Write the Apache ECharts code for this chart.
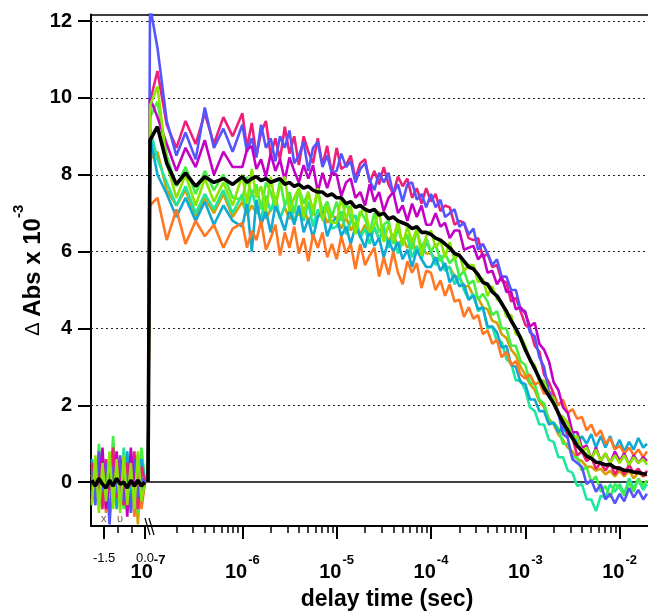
<!DOCTYPE html>
<html>
<head>
<meta charset="utf-8">
<script src="https://cdn.jsdelivr.net/npm/echarts@6/dist/echarts.min.js"></script>
<style>html,body{margin:0;padding:0;background:#fff;}#c{width:648px;height:611px;}</style>
</head>
<body>
<div id="c"></div>
<script>
// ---- delay times ----
const LIN_T = [-1.95, -1.82, -1.69, -1.56, -1.43, -1.30, -1.17, -1.04, -0.91, -0.78, -0.65, -0.52, -0.39, -0.26, -0.13, 0.0];
const LOG_T = [
  1.0e-7, 1.05e-7, 1.26e-7, 1.58e-7, 2.0e-7, 2.5e-7, 3.2e-7, 4.0e-7, 5.0e-7, 6.3e-7, 7.9e-7,
  1.0e-6, 1.12e-6, 1.26e-6, 1.41e-6, 1.58e-6, 1.78e-6, 2.0e-6, 2.24e-6, 2.51e-6, 2.82e-6, 3.16e-6, 3.55e-6, 3.98e-6, 4.47e-6, 5.01e-6, 5.62e-6, 6.31e-6, 7.08e-6, 7.94e-6, 8.91e-6,
  1.0e-5, 1.12e-5, 1.26e-5, 1.41e-5, 1.58e-5, 1.78e-5, 2.0e-5, 2.24e-5, 2.51e-5, 2.82e-5, 3.16e-5, 3.55e-5, 3.98e-5, 4.47e-5, 5.01e-5, 5.62e-5, 6.31e-5, 7.08e-5, 7.94e-5, 8.91e-5,
  1.0e-4, 1.12e-4, 1.26e-4, 1.41e-4, 1.58e-4, 1.78e-4, 2.0e-4, 2.24e-4, 2.51e-4, 2.82e-4, 3.16e-4, 3.55e-4, 3.98e-4, 4.47e-4, 5.01e-4, 5.62e-4, 6.31e-4, 7.08e-4, 7.94e-4, 8.91e-4,
  1.0e-3, 1.12e-3, 1.26e-3, 1.41e-3, 1.58e-3, 1.78e-3, 2.0e-3, 2.24e-3, 2.51e-3, 2.82e-3, 3.16e-3, 3.55e-3, 3.98e-3, 4.47e-3, 5.01e-3, 5.62e-3, 6.31e-3, 7.08e-3, 7.94e-3, 8.91e-3,
  1.0e-2, 1.12e-2, 1.26e-2, 1.41e-2, 1.58e-2, 1.78e-2, 1.95e-2
];

// ---- pre-trigger (linear) part, values x 1e-3 ----
const GOLD_LIN   = [0.4, -0.2, 0.5, -0.5, 0.3, -0.6, 0.2, -0.3, 0.6, -0.4, 0.3, -0.7, 0.4, -1.1, 0.5, 0.0];
const AQUA_LIN   = [-0.3, 0.4, -0.6, 0.7, -0.2, 0.5, -0.4, 0.3, -0.6, 0.9, -0.3, 0.4, -0.8, 0.5, -0.3, 0.0];
const GREEN_LIN  = [0.2, -0.5, 1.0, -0.3, 0.6, -0.6, 1.2, -0.4, 0.4, -0.7, 0.6, -0.3, 0.5, -0.8, 0.9, 0.0];
const CYAN_LIN   = [0.6, -0.4, 0.4, -0.6, 0.2, -0.3, 0.7, -0.7, 0.5, -0.2, 0.8, -0.5, 0.3, -0.6, 0.6, 0.0];
const ORANGE_LIN = [-0.5, 0.3, -0.4, 0.6, -0.8, 0.2, -0.3, 0.5, -0.6, 0.3, -0.4, 0.6, -0.9, 0.3, -0.7, 0.0];
const PINK_LIN   = [0.5, -0.3, 0.2, -0.7, 0.6, -0.2, 0.9, -0.4, 0.3, -0.6, 0.5, -0.1, 0.8, -0.7, 0.4, 0.0];
const BLUE_LIN   = [0.3, -0.6, 0.8, -0.2, 0.5, -1.1, 0.4, -0.3, 0.7, -0.5, 0.2, -0.8, 0.6, -0.4, 0.1, 0.0];
const MAG_LIN    = [-0.4, 0.6, -0.2, 0.9, -0.7, 0.3, -0.5, 0.8, -0.3, 0.5, -0.9, 0.9, -0.2, 0.7, -0.5, 0.0];
const LIME_LIN   = [-0.6, 0.7, -0.8, 0.5, -0.5, 0.8, -0.7, 0.6, -0.8, 0.7, -0.6, 0.5, -0.7, 0.8, -0.5, 0.0];
const BLACK_LIN  = [0.05, -0.1, 0.1, -0.05, -0.15, 0.05, -0.1, 0.1, -0.05, 0.0, -0.15, 0.05, -0.1, 0.05, -0.1, 0.0];

// ---- post-trigger (log) part, values x 1e-3 ----
const GOLD = [
  0.0, 8.4, 8.6, 7.6, 7.2, 7.6, 6.9, 7.4, 7.0, 7.5, 6.9,
  7.3, 6.95, 7.2, 7.0, 7.25, 6.85, 7.1, 7.2, 6.9, 7.15, 6.85, 7.05, 6.95, 7.15, 6.8, 7.0, 6.9, 7.1, 6.75, 6.95,
  6.85, 6.6, 6.9, 6.55, 6.75, 6.45, 6.7, 6.4, 6.6, 6.35, 6.5, 6.3, 6.45, 6.15, 6.35, 6.1, 6.25, 6.0, 6.15, 5.95,
  5.95, 5.8, 5.85, 5.6, 5.6, 5.35, 5.35, 5.1, 5.1, 4.85, 4.8, 4.55, 4.5, 4.2, 4.15, 3.85, 3.75, 3.45, 3.3, 3.0,
  2.8, 2.55, 2.4, 2.1, 1.95, 1.65, 1.5, 1.25, 1.1, 0.9, 0.8, 0.6, 0.55, 0.4, 0.4, 0.3, 0.35, 0.2, 0.3, 0.15,
  0.3, 0.15, 0.3, 0.1, 0.25, 0.15, 0.2
];
const AQUA = [
  0.0, 9.2, 8.4, 7.8, 7.2, 7.7, 7.0, 7.5, 7.1, 7.6, 7.0,
  7.5, 7.0, 7.6, 7.1, 6.85, 7.45, 7.05, 7.45, 6.85, 7.2, 7.45, 6.75, 7.1, 6.8, 7.3, 6.65, 7.1, 6.85, 7.15, 6.6,
  6.65, 7.05, 6.45, 6.8, 6.95, 6.35, 6.6, 6.2, 6.65, 6.3, 6.65, 6.1, 6.45, 5.95, 6.3, 6.4, 5.85, 6.15, 5.8, 6.25,
  6.0, 5.65, 5.9, 5.5, 5.6, 5.15, 5.35, 5.0, 4.75, 4.9, 4.45, 4.55, 4.0, 4.05, 3.65, 3.65, 3.2, 3.1, 2.65, 2.65,
  2.4, 1.95, 1.85, 1.5, 1.5, 1.1, 1.05, 0.65, 0.65, 0.3, 0.25, -0.1, -0.05, -0.45, -0.45, -0.75, -0.35, -0.4, -0.05, -0.25,
  -0.05, -0.3, 0.1, -0.15, 0.05, -0.2, -0.05
];
const GREEN = [
  0.0, 9.5, 9.9, 8.5, 7.7, 8.2, 7.5, 8.1, 7.6, 8.0, 7.4,
  7.35, 7.95, 7.45, 7.75, 7.1, 7.8, 7.55, 7.15, 7.85, 7.2, 7.55, 7.0, 7.65, 7.25, 7.55, 6.95, 7.6, 7.05, 7.3, 6.9,
  7.3, 6.8, 7.3, 6.85, 6.6, 7.05, 6.85, 6.5, 7.0, 6.5, 6.7, 6.8, 6.2, 6.6, 6.2, 6.45, 6.05, 6.55, 6.1, 6.35,
  6.0, 6.2, 5.75, 5.95, 5.7, 5.85, 5.35, 5.5, 5.15, 5.25, 4.75, 4.9, 4.7, 4.35, 4.45, 4.0, 4.0, 3.55, 3.55, 3.15,
  3.05, 2.6, 2.55, 2.15, 2.05, 1.6, 1.55, 1.4, 1.0, 1.0, 0.65, 0.65, 0.3, 0.4, 0.0, 0.15, -0.25, -0.1, -0.4, -0.05,
  -0.15, -0.35, 0.0, -0.25, 0.1, -0.1, 0.05
];
const CYAN = [
  0.0, 9.0, 8.0, 7.5, 6.9, 7.4, 6.8, 7.3, 6.7, 7.2, 6.8,
  6.65, 7.25, 6.0, 7.35, 6.7, 7.05, 6.5, 7.2, 6.9, 6.55, 7.1, 6.7, 7.2, 6.5, 6.85, 6.35, 6.9, 7.05, 6.4, 6.75,
  6.9, 6.4, 6.65, 6.2, 6.65, 6.4, 6.1, 6.6, 6.15, 6.35, 5.85, 6.3, 6.0, 6.25, 5.8, 6.05, 5.6, 6.05, 5.8, 5.6,
  5.6, 5.85, 5.5, 5.7, 5.2, 5.4, 5.1, 5.15, 4.75, 4.85, 4.5, 4.55, 4.05, 4.05, 3.9, 3.5, 3.55, 3.05, 3.0, 2.6,
  2.55, 2.15, 2.15, 1.85, 1.85, 1.5, 1.55, 1.3, 1.45, 1.2, 1.3, 1.0, 1.2, 1.0, 1.25, 0.9, 1.2, 0.9, 1.2, 0.85,
  1.1, 0.8, 1.05, 0.85, 1.15, 0.9, 1.0
];
const ORANGE = [
  0.0, 7.2, 7.4, 6.3, 7.1, 6.2, 6.8, 6.4, 6.7, 6.1, 6.6,
  6.75, 6.1, 6.55, 6.3, 6.8, 6.05, 6.35, 6.7, 5.9, 6.5, 6.1, 6.65, 5.95, 6.35, 5.75, 6.45, 6.1, 6.5, 5.85, 6.2,
  5.8, 6.4, 5.95, 6.2, 5.55, 6.2, 5.65, 5.9, 6.1, 5.35, 5.85, 5.4, 6.0, 5.45, 5.15, 5.75, 5.45, 5.7, 5.05, 5.5,
  5.45, 5.0, 5.25, 4.85, 5.15, 4.7, 4.75, 4.3, 4.55, 4.25, 4.35, 3.85, 3.95, 3.6, 3.7, 3.25, 3.4, 3.05, 3.15, 2.8,
  2.7, 2.8, 2.55, 2.6, 2.3, 2.35, 2.3, 2.0, 2.15, 1.8, 1.9, 1.65, 1.7, 1.35, 1.5, 1.2, 1.35, 1.0, 1.15, 0.85,
  0.95, 0.75, 0.9, 0.7, 0.85, 0.65, 0.8
];
const PINK = [
  0.0, 9.9, 10.7, 9.3, 8.7, 9.4, 8.8, 9.6, 8.8, 9.5, 9.0,
  9.6, 8.7, 9.35, 8.5, 9.1, 9.4, 8.5, 8.95, 8.4, 9.25, 8.55, 9.0, 8.25, 9.0, 8.6, 8.3, 8.95, 8.25, 8.75, 8.0,
  8.7, 8.15, 8.25, 8.5, 7.9, 8.3, 8.4, 7.8, 8.1, 7.75, 8.2, 7.75, 7.5, 7.95, 7.7, 7.9, 7.4, 7.65, 7.25, 7.65,
  7.3, 7.5, 7.05, 7.2, 7.15, 6.7, 6.8, 6.75, 6.35, 6.3, 6.35, 5.85, 5.95, 5.6, 5.65, 5.25, 5.2, 4.7, 4.8, 4.45,
  4.1, 4.0, 3.55, 3.4, 2.8, 2.6, 2.3, 1.75, 1.7, 1.25, 1.15, 0.7, 0.8, 0.55, 0.65, 0.35, 0.5, 0.3, 0.5, 0.2,
  0.4, 0.2, 0.45, 0.25, 0.35, 0.15, 0.3
];
const BLUE = [
  0.0, 12.4, 11.3, 9.4, 8.5, 9.1, 8.4, 9.75, 8.7, 9.2, 8.6,
  9.3, 8.6, 8.95, 8.45, 9.3, 8.7, 8.95, 8.35, 9.0, 8.7, 9.15, 8.3, 8.5, 8.85, 8.1, 8.7, 8.85, 8.2, 8.5, 8.05,
  8.1, 8.55, 8.2, 8.35, 7.8, 8.15, 8.3, 7.85, 7.6, 8.05, 7.8, 8.05, 7.5, 7.75, 7.3, 7.75, 7.8, 7.35, 7.5, 7.15,
  7.5, 7.15, 7.35, 6.9, 7.0, 7.1, 6.65, 6.75, 6.45, 6.6, 6.05, 6.2, 5.95, 5.65, 5.8, 5.35, 5.35, 5.0, 5.0, 4.5,
  4.45, 3.9, 3.8, 3.25, 3.0, 2.35, 2.15, 1.8, 1.25, 1.15, 0.6, 0.5, 0.4, -0.05, 0.05, -0.25, -0.05, -0.45, -0.3, -0.55,
  -0.3, -0.5, -0.15, -0.4, -0.2, -0.45, -0.3
];
const MAG = [
  0.0, 10.0, 9.5, 8.8, 8.1, 8.7, 8.2, 8.9, 8.0, 8.6, 8.2,
  8.2, 8.65, 8.75, 8.15, 8.4, 7.95, 8.55, 8.1, 8.4, 7.85, 8.45, 8.1, 7.8, 8.25, 7.9, 8.25, 7.55, 8.05, 7.65, 8.05,
  8.0, 7.45, 7.8, 7.9, 7.4, 7.55, 7.2, 7.75, 7.3, 7.55, 7.05, 7.4, 7.55, 7.0, 7.2, 6.8, 7.25, 6.9, 7.2, 6.7,
  6.7, 7.0, 6.65, 6.75, 6.35, 6.55, 6.55, 6.05, 6.1, 6.15, 5.8, 5.95, 5.45, 5.5, 5.15, 5.35, 4.95, 4.95, 4.5, 4.55,
  4.4, 4.05, 4.15, 3.6, 3.45, 3.15, 2.6, 2.4, 1.95, 1.8, 1.3, 1.3, 0.9, 0.95, 0.6, 0.9, 0.55, 0.75, 0.5, 0.8,
  0.55, 0.75, 0.45, 0.7, 0.5, 0.65, 0.55
];
const LIME = [
  0.0, 9.8, 10.3, 8.3, 7.4, 8.0, 7.2, 7.9, 7.3, 7.8, 7.2,
  8.0, 7.25, 8.15, 7.4, 7.7, 7.05, 7.95, 7.2, 7.7, 7.95, 7.05, 7.4, 7.65, 6.9, 7.55, 7.05, 7.65, 6.8, 7.2, 6.75,
  6.75, 7.4, 6.85, 7.2, 6.45, 7.0, 7.15, 6.5, 6.7, 7.05, 6.25, 6.7, 6.3, 6.8, 6.15, 6.65, 6.25, 6.6, 5.9, 6.4,
  6.55, 6.1, 6.3, 5.85, 6.25, 5.8, 5.95, 5.5, 5.65, 5.65, 5.2, 5.3, 4.85, 5.1, 4.75, 4.7, 4.3, 4.35, 3.85, 3.8,
  3.55, 3.15, 3.05, 2.6, 2.65, 2.25, 2.2, 1.75, 1.7, 1.55, 1.15, 1.2, 0.8, 0.9, 0.6, 0.85, 0.55, 0.75, 0.5, 0.7,
  0.5, 0.7, 0.45, 0.65, 0.5, 0.6, 0.45
];
const BLACK = [
  0.0, 8.9, 9.25, 8.3, 7.75, 8.05, 7.7, 7.95, 7.8, 7.9, 7.75,
  7.95, 7.8, 7.9, 7.95, 7.85, 7.9, 7.8, 7.85, 7.9, 7.75, 7.8, 7.7, 7.75, 7.65, 7.7, 7.6, 7.55, 7.55, 7.45, 7.5,
  7.4, 7.4, 7.25, 7.3, 7.15, 7.2, 7.1, 7.05, 7.1, 6.95, 7.0, 6.85, 6.9, 6.8, 6.75, 6.7, 6.6, 6.65, 6.5, 6.5,
  6.45, 6.35, 6.3, 6.2, 6.1, 5.95, 5.9, 5.75, 5.6, 5.55, 5.4, 5.2, 5.15, 4.95, 4.85, 4.65, 4.45, 4.2, 4.0, 3.75,
  3.45, 3.2, 2.95, 2.7, 2.45, 2.25, 2.05, 1.8, 1.55, 1.35, 1.15, 0.95, 0.82, 0.68, 0.62, 0.52, 0.5, 0.45, 0.46, 0.38,
  0.36, 0.31, 0.3, 0.26, 0.25, 0.22, 0.21
];

// ---- axis ticks / labels ----
const Y_TICKS = [0, 2, 4, 6, 8, 10, 12];
const Y_GRID = [2, 4, 6, 8, 10, 12];
const LIN_MAJOR = [-1.5, 0.0];
const LIN_MINOR = [-1.0, -0.5];
const LOG_LABELS = [1e-7, 1e-6, 1e-5, 1e-4, 1e-3, 1e-2];
const LOG_MAJOR = [1e-6, 1e-5, 1e-4, 1e-3, 1e-2];
const LOG_MINOR = [];
for (let e = -7; e <= -2; e++) {
  for (let m = 2; m <= 9; m++) {
    const v = m * Math.pow(10, e);
    if (v < 1.99e-2) LOG_MINOR.push(v);
  }
}

const traces = [
  {name: 'gold', lin: GOLD_LIN, log: GOLD},
  {name: 'aqua', lin: AQUA_LIN, log: AQUA},
  {name: 'green', lin: GREEN_LIN, log: GREEN},
  {name: 'cyan', lin: CYAN_LIN, log: CYAN},
  {name: 'orange', lin: ORANGE_LIN, log: ORANGE},
  {name: 'pink', lin: PINK_LIN, log: PINK},
  {name: 'blue', lin: BLUE_LIN, log: BLUE},
  {name: 'magenta', lin: MAG_LIN, log: MAG},
  {name: 'lime', lin: LIME_LIN, log: LIME},
  {name: 'average', lin: BLACK_LIN, log: BLACK}
];
const STYLE = {
  gold: {c: '#d4a000', w: 2.6}, aqua: {c: '#1ee6a0', w: 2.6}, green: {c: '#44ee44', w: 2.6},
  cyan: {c: '#10a8d4', w: 2.6}, orange: {c: '#ff7722', w: 2.6}, pink: {c: '#ee1f78', w: 2.6},
  blue: {c: '#5555ff', w: 2.6}, magenta: {c: '#c400c4', w: 2.6}, lime: {c: '#8ae600', w: 2.6},
  average: {c: '#000000', w: 3.6}
};

const FONT = 'Liberation Sans, Arial, Helvetica, sans-serif';
const YMIN = -1.14, YMAX = 12.17;

function gridMarkLine() {
  return {
    silent: true, symbol: 'none', z: 1, animation: false,
    label: {show: false},
    data: [{yAxis: 0, lineStyle: {color: '#000', width: 1.5, type: 'solid'}}]
      .concat(Y_GRID.map(v => ({yAxis: v, lineStyle: {color: '#222', width: 1, type: [2, 3]}})))
  };
}

const series = [];
traces.forEach((tr, k) => {
  const st = STYLE[tr.name];
  const a = {
    type: 'line', name: tr.name, xAxisIndex: 0, yAxisIndex: 0, showSymbol: false, symbol: 'none',
    lineStyle: {color: st.c, width: st.w}, itemStyle: {color: st.c}, emphasis: {disabled: true},
    data: LIN_T.map((t, i) => [t, tr.lin[i]])
  };
  const b = {
    type: 'line', name: tr.name, xAxisIndex: 2, yAxisIndex: 1, showSymbol: false, symbol: 'none',
    lineStyle: {color: st.c, width: st.w}, itemStyle: {color: st.c}, emphasis: {disabled: true},
    data: LOG_T.map((t, i) => [t, tr.log[i]])
  };
  if (k === 0) { a.markLine = gridMarkLine(); b.markLine = gridMarkLine(); }
  series.push(a, b);
});

const hiddenAxisParts = {axisLine: {show: false}, axisLabel: {show: false}, splitLine: {show: false}};

const option = {
  animation: false,
  backgroundColor: '#fff',
  textStyle: {fontFamily: FONT},
  grid: [
    {left: 91, width: 57, top: 14.5, height: 511.5, outerBoundsMode: 'none'},
    {left: 148, right: 0, top: 14.5, height: 511.5, outerBoundsMode: 'none'}
  ],
  xAxis: [
    { // linear pre-trigger axis
      type: 'value', gridIndex: 0, min: -1.98, max: 0.11, position: 'bottom',
      axisLine: {onZero: false, lineStyle: {color: '#000', width: 2}},
      axisTick: {customValues: LIN_MAJOR, length: 13, lineStyle: {color: '#000', width: 2}},
      axisLabel: {customValues: LIN_MAJOR, formatter: v => v.toFixed(1), fontSize: 13, color: '#000',
                  fontFamily: FONT, margin: 24, lineHeight: 16},
      splitLine: {show: false}
    },
    { // linear minor ticks
      type: 'value', gridIndex: 0, min: -1.98, max: 0.11, position: 'bottom',
      axisLine: {show: false, onZero: false},
      axisTick: {customValues: LIN_MINOR, length: 7, lineStyle: {color: '#000', width: 1.5}},
      axisLabel: {show: false}, splitLine: {show: false}
    },
    { // log delay axis
      type: 'log', gridIndex: 1, min: 1e-7, max: 2e-2, position: 'bottom',
      axisLine: {onZero: false, lineStyle: {color: '#000', width: 2}},
      axisTick: {customValues: LOG_MAJOR, length: 13, lineStyle: {color: '#000', width: 2}},
      axisLabel: {
        customValues: LOG_LABELS, margin: 28, color: '#000',
        formatter: v => '{b|10}{s|' + Math.round(Math.log10(v)) + '}',
        rich: {
          b: {fontSize: 20, fontWeight: 'bold', fontFamily: FONT, color: '#000', lineHeight: 36},
          s: {fontSize: 13, fontWeight: 'bold', fontFamily: FONT, color: '#000', lineHeight: 14, verticalAlign: 'top', padding: [0, 0, 0, 1]}
        }
      },
      splitLine: {show: false},
      name: 'delay time (sec)', nameLocation: 'middle', nameGap: 44,
      nameTextStyle: {fontSize: 23, fontWeight: 'bold', fontFamily: FONT, color: '#000', lineHeight: 26, padding: [0, 22, 0, 0]}
    },
    { // log minor ticks
      type: 'log', gridIndex: 1, min: 1e-7, max: 2e-2, position: 'bottom',
      axisLine: {show: false, onZero: false},
      axisTick: {customValues: LOG_MINOR, length: 7, lineStyle: {color: '#000', width: 1.5}},
      axisLabel: {show: false}, splitLine: {show: false}
    },
    { // top frame, left part
      type: 'value', gridIndex: 0, min: -1.98, max: 0.11, position: 'top',
      axisLine: {onZero: false, lineStyle: {color: '#000', width: 1.5}},
      axisTick: {show: false}, axisLabel: {show: false}, splitLine: {show: false}
    },
    { // top frame, right part
      type: 'log', gridIndex: 1, min: 1e-7, max: 2e-2, position: 'top',
      axisLine: {onZero: false, lineStyle: {color: '#000', width: 1.5}},
      axisTick: {show: false}, axisLabel: {show: false}, splitLine: {show: false}
    }
  ],
  yAxis: [
    {
      type: 'value', gridIndex: 0, min: YMIN, max: YMAX, position: 'left',
      axisLine: {onZero: false, lineStyle: {color: '#000', width: 2}},
      axisTick: {customValues: Y_TICKS, length: 13, lineStyle: {color: '#000', width: 2}},
      axisLabel: {customValues: Y_TICKS, fontSize: 20, fontWeight: 'bold', color: '#000', fontFamily: FONT, margin: 19},
      splitLine: {show: false},
      name: '{d|\u0394 }{b|Abs x 10}{s|-3}', nameLocation: 'middle', nameRotate: 90, nameGap: 35,
      nameTextStyle: {
        rich: {
          d: {fontSize: 20, fontFamily: FONT, color: '#000', lineHeight: 44},
          b: {fontSize: 24, fontWeight: 'bold', fontFamily: FONT, color: '#000', lineHeight: 44},
          s: {fontSize: 15, fontWeight: 'bold', fontFamily: FONT, color: '#000', lineHeight: 14, verticalAlign: 'top'}
        }
      }
    },
    Object.assign({
      type: 'value', gridIndex: 1, min: YMIN, max: YMAX, axisTick: {show: false}
    }, hiddenAxisParts)
  ],
  graphic: [
    {type: 'line', shape: {x1: 145, y1: 518, x2: 150, y2: 535}, style: {stroke: '#000', lineWidth: 1.2}, z: 100},
    {type: 'line', shape: {x1: 149, y1: 518, x2: 154, y2: 535}, style: {stroke: '#000', lineWidth: 1.2}, z: 100},
    {type: 'text', x: 101, y: 513, style: {text: 'x', fontSize: 11, fill: '#7a5a3a', fontFamily: FONT}, z: 100},
    {type: 'text', x: 117, y: 513, style: {text: '\u03c5', fontSize: 11, fill: '#7a5a3a', fontFamily: FONT}, z: 100}
  ],
  series: series
};

const chart = echarts.init(document.getElementById('c'), null, {renderer: 'canvas'});
chart.setOption(option);
</script>
</body>
</html>
